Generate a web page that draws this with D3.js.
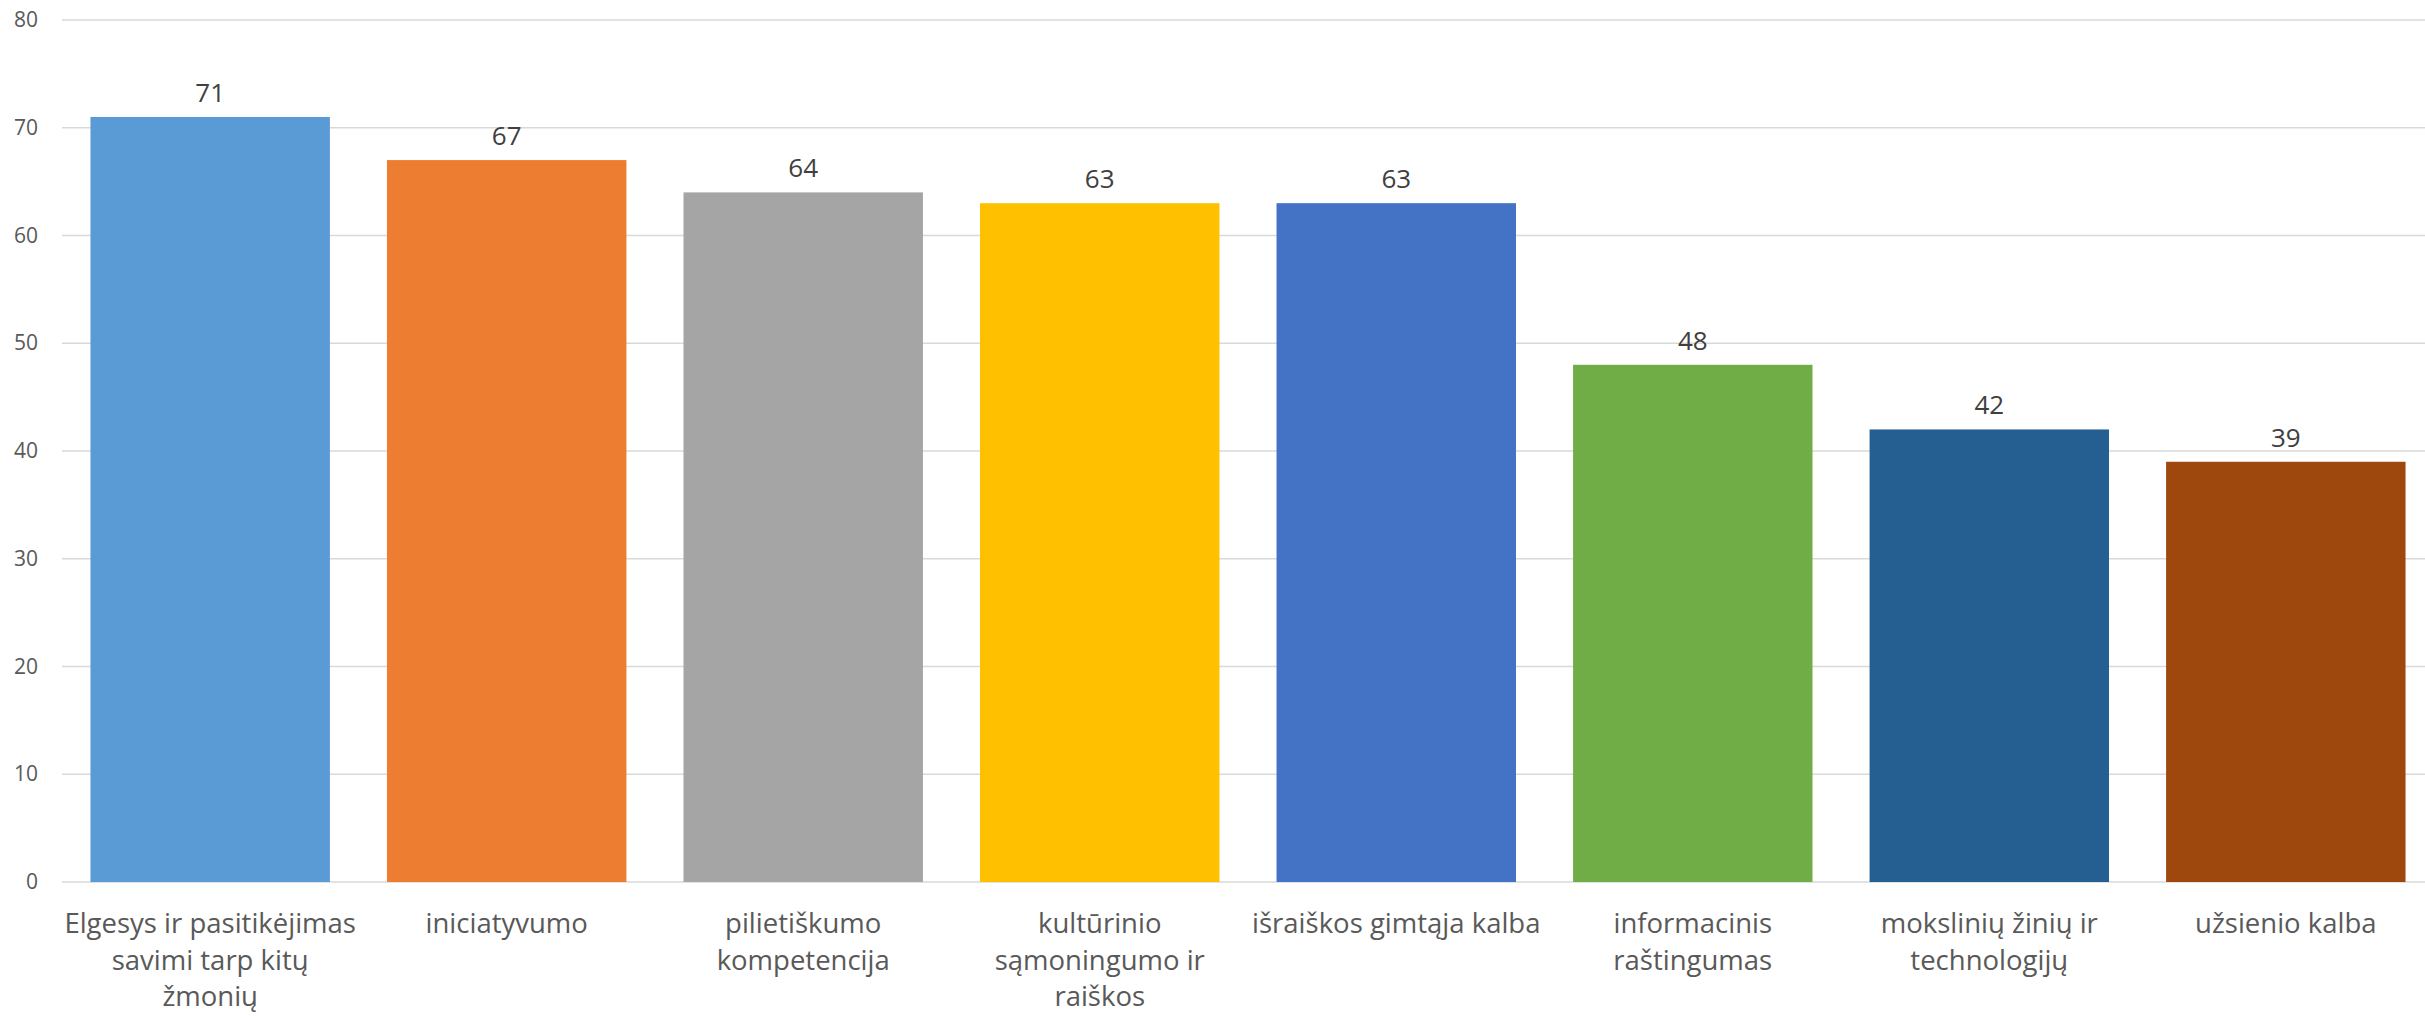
<!DOCTYPE html>
<html>
<head>
<meta charset="utf-8">
<script src="https://cdn.jsdelivr.net/npm/d3@7"></script>
<style>
  html, body { margin: 0; padding: 0; background: #ffffff; }
  svg { display: block; }
</style>
</head>
<body>
<svg id="chart" width="2425" height="1018"></svg>
<script>
// ---- data ----
const categories = [
  "Elgesys ir pasitikėjimas savimi tarp kitų žmonių",
  "iniciatyvumo",
  "pilietiškumo kompetencija",
  "kultūrinio sąmoningumo ir raiškos",
  "išraiškos gimtąja kalba",
  "informacinis raštingumas",
  "mokslinių žinių ir technologijų",
  "užsienio kalba"
];
const categoryLines = [
  ["Elgesys ir pasitikėjimas", "savimi tarp kitų", "žmonių"],
  ["iniciatyvumo"],
  ["pilietiškumo", "kompetencija"],
  ["kultūrinio", "sąmoningumo ir", "raiškos"],
  ["išraiškos gimtąja kalba"],
  ["informacinis", "raštingumas"],
  ["mokslinių žinių ir", "technologijų"],
  ["užsienio kalba"]
];
const values = [71, 67, 64, 63, 63, 48, 42, 39];
const barColors = ["#5B9BD5", "#ED7D31", "#A5A5A5", "#FFC000", "#4472C4", "#70AD47", "#255E91", "#9E480E"];
const yTicks = [0, 10, 20, 30, 40, 50, 60, 70, 80];

// ---- layout ----
const svg = d3.select("#chart");
const plotLeft = 62, plotRight = 2425, plotTop = 20, plotBottom = 882;

const x = d3.scaleBand()
  .domain(categories)
  .range([plotLeft, 2434])
  .paddingInner(0.1925)
  .paddingOuter(0.096);

const y = d3.scaleLinear().domain([0, 80]).range([plotBottom, plotTop]);

// gridlines
svg.append("g").selectAll("line")
  .data(yTicks)
  .join("line")
  .attr("x1", plotLeft).attr("x2", plotRight)
  .attr("y1", d => y(d)).attr("y2", d => y(d))
  .attr("stroke", "#d9d9d9")
  .attr("stroke-width", 1.5);

// y axis labels
const yAxis = d3.axisLeft(y).tickValues(yTicks).tickSize(0).tickPadding(0);
const yg = svg.append("g").attr("transform", "translate(38,0)").call(yAxis);
yg.select(".domain").remove();
yg.selectAll("text")
  .attr("font-family", "'Open Sans', sans-serif")
  .attr("font-size", 21)
  .attr("fill", "#595959");

// bars
svg.append("g").selectAll("rect")
  .data(values)
  .join("rect")
  .attr("x", (d, i) => x(categories[i]))
  .attr("width", x.bandwidth())
  .attr("y", d => y(d))
  .attr("height", d => y(0) - y(d))
  .attr("fill", (d, i) => barColors[i]);

// data labels
svg.append("g").selectAll("text")
  .data(values)
  .join("text")
  .attr("x", (d, i) => x(categories[i]) + x.bandwidth() / 2)
  .attr("y", d => y(d) - 15)
  .attr("text-anchor", "middle")
  .attr("font-family", "'Open Sans', sans-serif")
  .attr("font-size", 26)
  .attr("fill", "#404040")
  .text(d => d);

// category labels
const xg = svg.append("g");
categories.forEach((c, i) => {
  const t = xg.append("text")
    .attr("x", x(c) + x.bandwidth() / 2)
    .attr("y", plotBottom + 51)
    .attr("text-anchor", "middle")
    .attr("font-family", "'Open Sans', sans-serif")
    .attr("font-size", 27.5)
    .attr("fill", "#595959");
  categoryLines[i].forEach((line, j) => {
    t.append("tspan")
      .attr("x", x(c) + x.bandwidth() / 2)
      .attr("dy", j === 0 ? 0 : 36.5)
      .text(line);
  });
});
</script>
</body>
</html>
